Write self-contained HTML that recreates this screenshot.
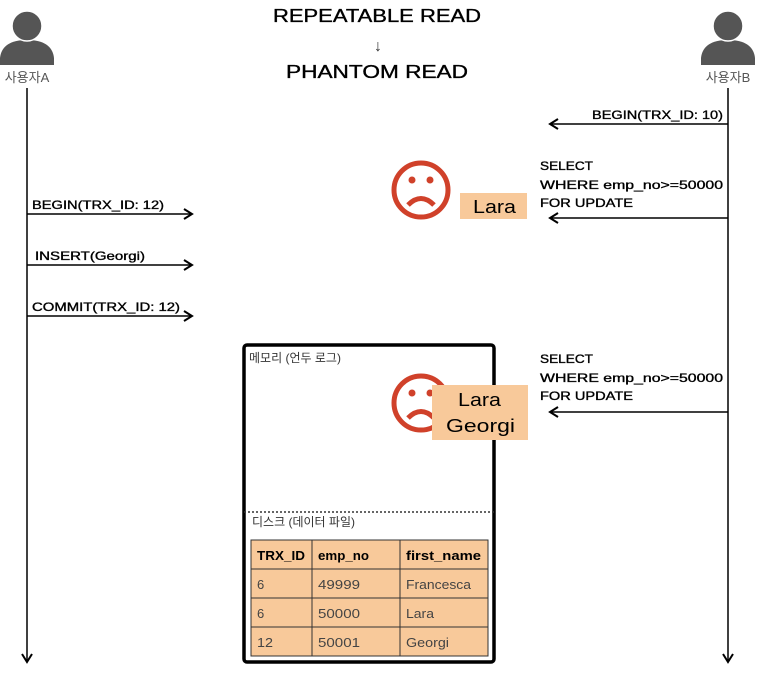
<!DOCTYPE html>
<html><head><meta charset="utf-8"><style>
html,body{margin:0;padding:0;background:#fff;}
text{font-family:"Liberation Sans","Noto Sans CJK KR",sans-serif;}
.m{stroke:#000;stroke-width:0.35;}
</style></head><body>
<svg width="758" height="670" viewBox="0 0 758 670" xmlns="http://www.w3.org/2000/svg">
<defs>
<marker id="ar" markerWidth="12" markerHeight="12" refX="10" refY="6" orient="auto" markerUnits="userSpaceOnUse">
<path d="M2,1 L10,6 L2,11" fill="none" stroke="#000" stroke-width="2"/>
</marker>
</defs>
<g fill="#555">
<path d="M0,65 L0,58 Q2,40 27,40 Q52,40 54,58 L54,65 Z"/>
<path d="M701,65 L701,58 Q703,40 728,40 Q753,40 755,58 L755,65 Z"/>
</g>
<circle cx="27" cy="26" r="15" fill="#555" stroke="#fff" stroke-width="1.5"/>
<circle cx="728" cy="26" r="15" fill="#555" stroke="#fff" stroke-width="1.5"/>
<text x="27" y="82" font-size="13" fill="#555" text-anchor="middle">사용자A</text>
<text x="728" y="82" font-size="13" fill="#555" text-anchor="middle">사용자B</text>
<text x="273" y="22" font-size="18" textLength="208" lengthAdjust="spacingAndGlyphs" class="m">REPEATABLE READ</text>
<text x="378" y="51" font-size="16" text-anchor="middle" fill="#333">↓</text>
<text x="286" y="78" font-size="18" textLength="182" lengthAdjust="spacingAndGlyphs" class="m">PHANTOM READ</text>
<line x1="27" y1="88" x2="27" y2="662" stroke="#000" stroke-width="1.5" marker-end="url(#ar)"/>
<line x1="728" y1="88" x2="728" y2="662" stroke="#000" stroke-width="1.5" marker-end="url(#ar)"/>
<g stroke="#000" stroke-width="1.5">
<line x1="27" y1="214" x2="192" y2="214" marker-end="url(#ar)"/>
<line x1="27" y1="265" x2="192" y2="265" marker-end="url(#ar)"/>
<line x1="27" y1="316" x2="192" y2="316" marker-end="url(#ar)"/>
<line x1="728" y1="124" x2="550" y2="124" marker-end="url(#ar)"/>
<line x1="728" y1="218" x2="550" y2="218" marker-end="url(#ar)"/>
<line x1="728" y1="412" x2="550" y2="412" marker-end="url(#ar)"/>
</g>
<g font-size="12" class="m" lengthAdjust="spacingAndGlyphs">
<text x="32" y="209" textLength="132" lengthAdjust="spacingAndGlyphs">BEGIN(TRX_ID: 12)</text>
<text x="35" y="260" textLength="110" lengthAdjust="spacingAndGlyphs">INSERT(Georgi)</text>
<text x="32" y="311" textLength="148" lengthAdjust="spacingAndGlyphs">COMMIT(TRX_ID: 12)</text>
<text x="592" y="119" textLength="131" lengthAdjust="spacingAndGlyphs">BEGIN(TRX_ID: 10)</text>
<text x="540" y="170" textLength="53" lengthAdjust="spacingAndGlyphs">SELECT</text>
<text x="540" y="189" textLength="183" lengthAdjust="spacingAndGlyphs">WHERE emp_no&gt;=50000</text>
<text x="540" y="207" textLength="93" lengthAdjust="spacingAndGlyphs">FOR UPDATE</text>
<text x="540" y="363" textLength="53" lengthAdjust="spacingAndGlyphs">SELECT</text>
<text x="540" y="382" textLength="183" lengthAdjust="spacingAndGlyphs">WHERE emp_no&gt;=50000</text>
<text x="540" y="400" textLength="93" lengthAdjust="spacingAndGlyphs">FOR UPDATE</text>
</g>
<g stroke="#d0412a" stroke-width="5" fill="none">
<circle cx="421" cy="190" r="27"/>
<path d="M408,205 Q421,192 434,205"/>
</g>
<circle cx="412" cy="180" r="3.5" fill="#d0412a"/><circle cx="430" cy="180" r="3.5" fill="#d0412a"/>
<rect x="460" y="193" width="67" height="26" fill="#f8c99a"/>
<text x="473" y="213" font-size="18" textLength="43" lengthAdjust="spacingAndGlyphs">Lara</text>
<rect x="244" y="345" width="250" height="317" rx="3" fill="none" stroke="#000" stroke-width="3.5"/>
<line x1="244" y1="512" x2="494" y2="512" stroke="#333" stroke-width="1.5" stroke-dasharray="2,2"/>
<text x="249" y="362" font-size="12" fill="#333">메모리 (언두 로그)</text>
<text x="252" y="526" font-size="12" fill="#333">디스크 (데이터 파일)</text>
<g stroke="#d0412a" stroke-width="5" fill="none">
<circle cx="421" cy="403" r="27"/>
<path d="M408,418 Q421,405 434,418"/>
</g>
<circle cx="412" cy="393" r="3.5" fill="#d0412a"/><circle cx="430" cy="393" r="3.5" fill="#d0412a"/>
<rect x="432" y="385" width="96" height="55" fill="#f8c99a"/>
<text x="458" y="406" font-size="18" textLength="43" lengthAdjust="spacingAndGlyphs">Lara</text>
<text x="446" y="432" font-size="18" textLength="69" lengthAdjust="spacingAndGlyphs">Georgi</text>
<rect x="251" y="540" width="237" height="116" fill="#f8c99a" stroke="#333" stroke-width="1"/>
<g stroke="#333" stroke-width="1">
<line x1="251" y1="569" x2="488" y2="569"/>
<line x1="251" y1="598" x2="488" y2="598"/>
<line x1="251" y1="627" x2="488" y2="627"/>
<line x1="312" y1="540" x2="312" y2="656"/>
<line x1="400" y1="540" x2="400" y2="656"/>
</g>
<g font-size="13" fill="#000" font-weight="bold">
<text x="257" y="560" textLength="48" lengthAdjust="spacingAndGlyphs">TRX_ID</text>
<text x="318" y="560" textLength="51" lengthAdjust="spacingAndGlyphs">emp_no</text>
<text x="406" y="560" textLength="75" lengthAdjust="spacingAndGlyphs">first_name</text>
</g>
<g font-size="13" fill="#444">
<text x="257" y="589">6</text><text x="318" y="589" textLength="42" lengthAdjust="spacingAndGlyphs">49999</text><text x="406" y="589" textLength="65" lengthAdjust="spacingAndGlyphs">Francesca</text>
<text x="257" y="618">6</text><text x="318" y="618" textLength="42" lengthAdjust="spacingAndGlyphs">50000</text><text x="406" y="618" textLength="28" lengthAdjust="spacingAndGlyphs">Lara</text>
<text x="257" y="647" textLength="16" lengthAdjust="spacingAndGlyphs">12</text><text x="318" y="647" textLength="42" lengthAdjust="spacingAndGlyphs">50001</text><text x="406" y="647" textLength="43" lengthAdjust="spacingAndGlyphs">Georgi</text>
</g>
</svg>
</body></html>
